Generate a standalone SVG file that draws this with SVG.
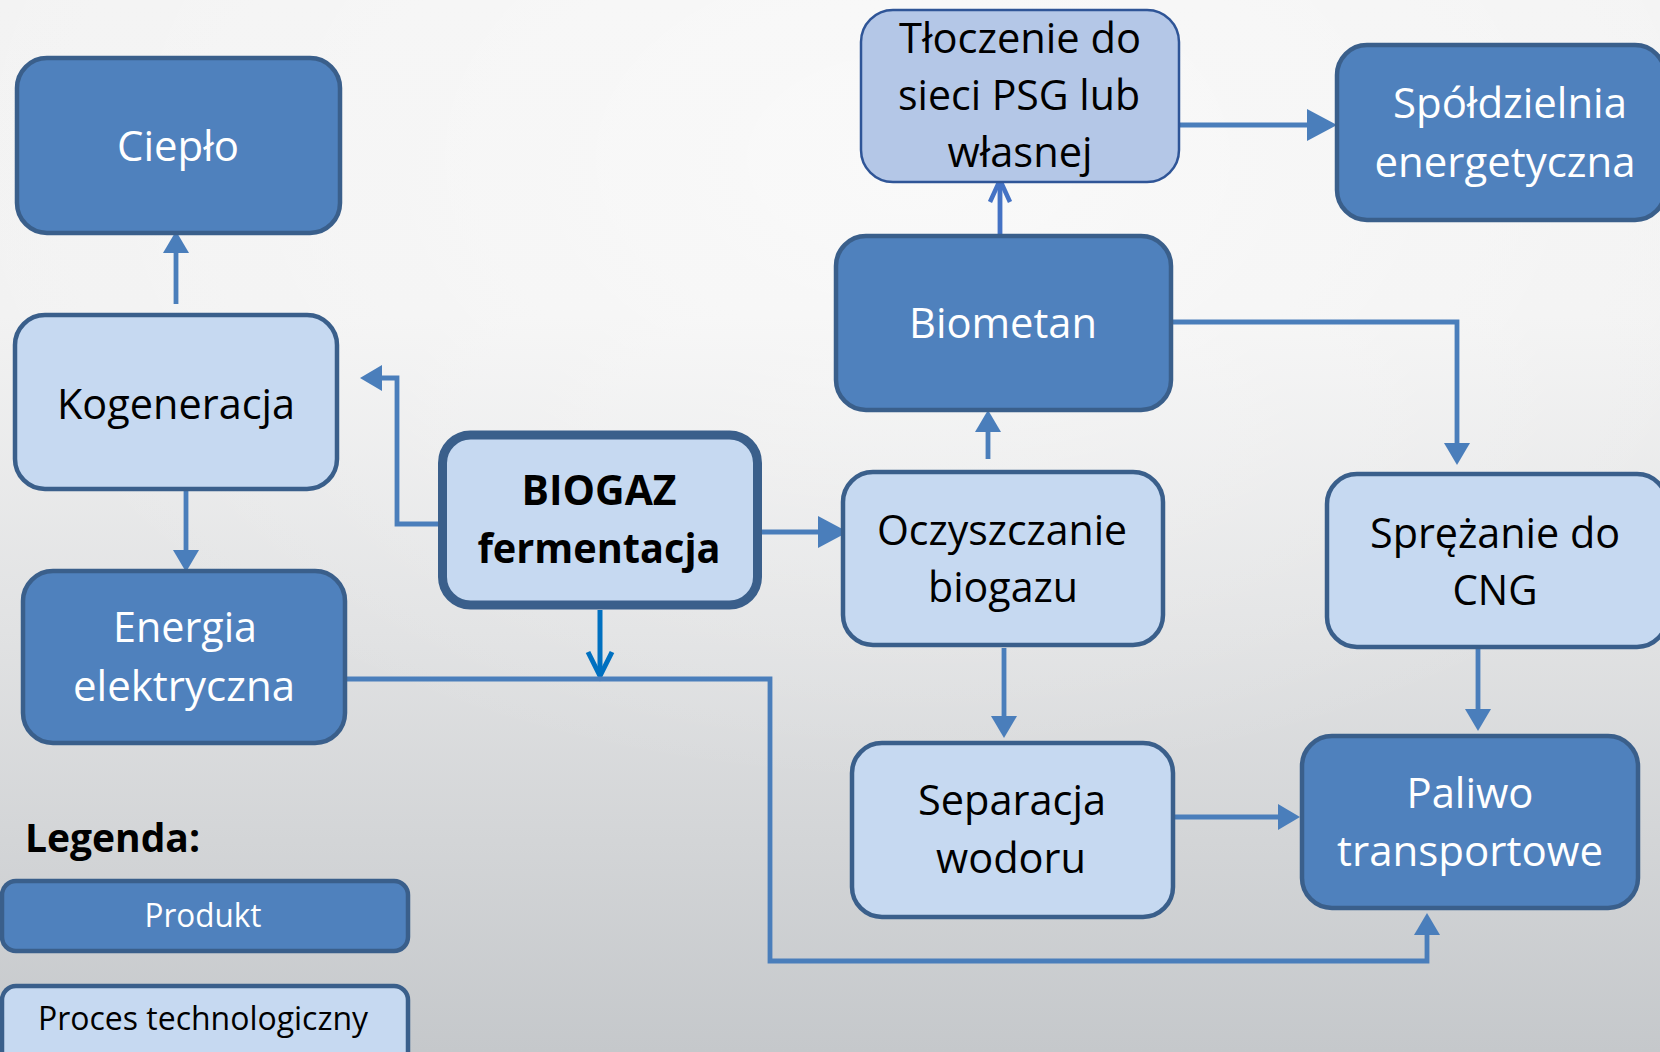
<svg xmlns="http://www.w3.org/2000/svg" width="1660" height="1052" viewBox="0 0 1660 1052">
  <defs>
    <linearGradient id="bg" x1="0" y1="0" x2="0" y2="1">
      <stop offset="0" stop-color="#f3f3f3"/>
      <stop offset="0.3" stop-color="#f2f2f2"/>
      <stop offset="0.6" stop-color="#e1e2e3"/>
      <stop offset="1" stop-color="#c5c8cb"/>
    </linearGradient>
    <radialGradient id="glow" cx="0.55" cy="0.15" r="0.6">
      <stop offset="0" stop-color="#ffffff" stop-opacity="0.55"/>
      <stop offset="1" stop-color="#ffffff" stop-opacity="0"/>
    </radialGradient>
    <!-- filled triangular head; path ends at the base of the head -->
    <marker id="tri" markerUnits="userSpaceOnUse" markerWidth="24" markerHeight="28" refX="0" refY="13" orient="auto" overflow="visible">
      <path d="M0,0 L22,13 L0,26 Z" fill="#4a7ebb"/>
    </marker>
    <marker id="triL" markerUnits="userSpaceOnUse" markerWidth="32" markerHeight="34" refX="0" refY="16" orient="auto" overflow="visible">
      <path d="M0,0 L30,16 L0,32 Z" fill="#4a7ebb"/>
    </marker>
    <!-- open V heads -->
    <marker id="vee" markerUnits="userSpaceOnUse" markerWidth="30" markerHeight="30" refX="0" refY="0" orient="auto" overflow="visible">
      <path d="M-24,-12 L0,0 L-24,12" fill="none" stroke="#0070c0" stroke-width="5" stroke-linejoin="miter"/>
    </marker>
    <marker id="vee2" markerUnits="userSpaceOnUse" markerWidth="30" markerHeight="30" refX="0" refY="0" orient="auto" overflow="visible">
      <path d="M-22,-10 L0,0 L-22,10" fill="none" stroke="#4472c4" stroke-width="4.5" stroke-linejoin="miter"/>
    </marker>
  </defs>
  <style>
    .product rect { fill: #4f81bd; stroke: #3a5f8b; stroke-width: 4.5; }
    .process rect { fill: #c6d9f1; stroke: #3a5f8b; stroke-width: 4.5; }
    .feed rect { fill: #b4c7e7; stroke: #2f5597; stroke-width: 2.5; }
    .core rect { fill: #c6d9f1; stroke: #3a5f8b; stroke-width: 9; }
    text { font-family: "Open Sans", "Noto Sans", "Liberation Sans", sans-serif; font-size: 42px; text-anchor: middle; }
    .product text { fill: #ffffff; }
    .process text, .feed text, .core text { fill: #000000; }
    .core text { font-weight: bold; }
    .conn path { fill: none; stroke: #4a7ebb; stroke-width: 4.8; stroke-linejoin: miter; }
    .legend-title { font-weight: bold; text-anchor: start; fill: #000000; font-size: 40px; }
    .small { font-size: 33px; }
  </style>

  <rect x="0" y="0" width="1660" height="1052" fill="url(#bg)"/>
  <rect x="0" y="0" width="1660" height="1052" fill="url(#glow)"/>

  <!-- connectors -->
  <g id="connectors" class="conn">
    <path d="M176,304 V253" marker-end="url(#tri)"/>
    <path d="M186,489 V550" marker-end="url(#tri)"/>
    <path d="M439,524 H397 V378 H382" marker-end="url(#tri)"/>
    <path d="M762,532 H818" marker-end="url(#triL)"/>
    <path d="M600,610 V676" style="stroke:#0070c0;stroke-width:5" marker-end="url(#vee)"/>
    <path d="M345,679 H770 V961 H1427 V935" marker-end="url(#tri)"/>
    <path d="M988,459 V432" marker-end="url(#tri)"/>
    <path d="M1004,648 V716" marker-end="url(#tri)"/>
    <path d="M1000,236 V180" style="stroke:#4472c4" marker-end="url(#vee2)"/>
    <path d="M1178,125 H1307" marker-end="url(#triL)"/>
    <path d="M1171,322 H1457 V443" marker-end="url(#tri)"/>
    <path d="M1478,648 V709" marker-end="url(#tri)"/>
    <path d="M1173,817 H1278" marker-end="url(#tri)"/>
  </g>

  <!-- nodes -->
  <g id="cieplo" class="product">
    <rect x="17" y="58" width="323" height="175" rx="30"/>
    <text x="178" y="161" textLength="122" lengthAdjust="spacingAndGlyphs">Ciepło</text>
  </g>
  <g id="kogeneracja" class="process">
    <rect x="15" y="315" width="322" height="174" rx="30"/>
    <text x="176" y="419" textLength="238" lengthAdjust="spacingAndGlyphs">Kogeneracja</text>
  </g>
  <g id="energia" class="product">
    <rect x="23" y="571" width="322" height="172" rx="30"/>
    <text x="185" y="642" textLength="144" lengthAdjust="spacingAndGlyphs">Energia</text>
    <text x="184" y="701" textLength="222" lengthAdjust="spacingAndGlyphs">elektryczna</text>
  </g>
  <g id="biogaz" class="core">
    <rect x="442.5" y="435" width="315" height="170" rx="28"/>
    <text x="599" y="505" textLength="155" lengthAdjust="spacingAndGlyphs">BIOGAZ</text>
    <text x="599" y="563" textLength="243" lengthAdjust="spacingAndGlyphs">fermentacja</text>
  </g>
  <g id="oczyszczanie" class="process">
    <rect x="843" y="472" width="320" height="173" rx="30"/>
    <text x="1002" y="545" textLength="250" lengthAdjust="spacingAndGlyphs">Oczyszczanie</text>
    <text x="1003" y="602" textLength="150" lengthAdjust="spacingAndGlyphs">biogazu</text>
  </g>
  <g id="biometan" class="product">
    <rect x="836" y="236" width="335" height="174" rx="30"/>
    <text x="1003" y="338" textLength="188" lengthAdjust="spacingAndGlyphs">Biometan</text>
  </g>
  <g id="tloczenie" class="feed">
    <rect x="861" y="10" width="318" height="172" rx="32"/>
    <text x="1020" y="53" textLength="242" lengthAdjust="spacingAndGlyphs">Tłoczenie do</text>
    <text x="1019" y="110" textLength="242" lengthAdjust="spacingAndGlyphs">sieci PSG lub</text>
    <text x="1020" y="167" textLength="145" lengthAdjust="spacingAndGlyphs">własnej</text>
  </g>
  <g id="spoldzielnia" class="product">
    <rect x="1337" y="45" width="328" height="175" rx="30"/>
    <text x="1510" y="118" textLength="234" lengthAdjust="spacingAndGlyphs">Spółdzielnia</text>
    <text x="1505" y="177" textLength="261" lengthAdjust="spacingAndGlyphs">energetyczna</text>
  </g>
  <g id="sprezanie" class="process">
    <rect x="1327" y="474" width="340" height="173" rx="30"/>
    <text x="1495" y="548" textLength="250" lengthAdjust="spacingAndGlyphs">Sprężanie do</text>
    <text x="1495" y="605" textLength="85" lengthAdjust="spacingAndGlyphs">CNG</text>
  </g>
  <g id="separacja" class="process">
    <rect x="852" y="743" width="321" height="174" rx="30"/>
    <text x="1012" y="815" textLength="188" lengthAdjust="spacingAndGlyphs">Separacja</text>
    <text x="1011" y="873" textLength="150" lengthAdjust="spacingAndGlyphs">wodoru</text>
  </g>
  <g id="paliwo" class="product">
    <rect x="1302" y="736" width="336" height="172" rx="30"/>
    <text x="1470" y="808" textLength="127" lengthAdjust="spacingAndGlyphs">Paliwo</text>
    <text x="1470" y="866" textLength="266" lengthAdjust="spacingAndGlyphs">transportowe</text>
  </g>

  <!-- legend -->
  <g id="legend">
    <text class="legend-title" x="25" y="852" textLength="175" lengthAdjust="spacingAndGlyphs">Legenda:</text>
    <g id="legend-produkt" class="product">
      <rect x="2" y="881" width="406" height="70" rx="14"/>
      <text class="small" x="203" y="927" textLength="117" lengthAdjust="spacingAndGlyphs">Produkt</text>
    </g>
    <g id="legend-proces" class="process">
      <rect x="2" y="986" width="406" height="80" rx="14"/>
      <text class="small" x="203" y="1030" textLength="330" lengthAdjust="spacingAndGlyphs">Proces technologiczny</text>
    </g>
  </g>
</svg>
